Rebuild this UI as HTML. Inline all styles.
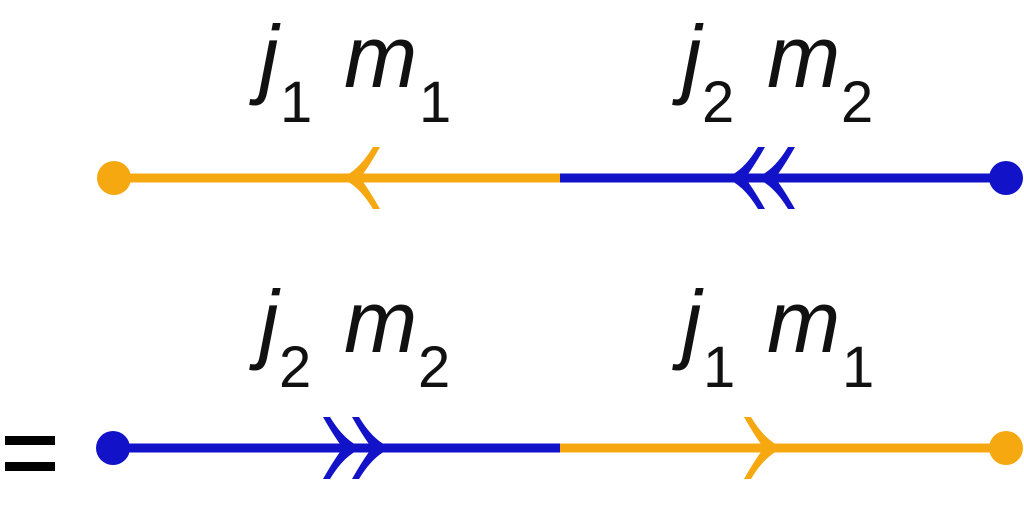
<!DOCTYPE html>
<html><head><style>
html,body{margin:0;padding:0;background:#fff;}
svg{display:block}
text{font-family:"Liberation Sans",sans-serif;}
</style></head><body>
<svg width="1024" height="512" viewBox="0 0 1024 512" xmlns="http://www.w3.org/2000/svg">
<defs>
<path id="ah" d="M0,0 Q18,-6 33,-31 L40,-31 Q28,-10 20,0 Q28,10 40,31 L33,31 Q18,6 0,0 Z"/>
</defs>
<!-- top -->
<line x1="114" y1="178" x2="560" y2="178" stroke="#F5A810" stroke-width="9"/>
<line x1="560" y1="178" x2="1006" y2="178" stroke="#1212C8" stroke-width="9"/>
<circle cx="114" cy="178" r="17" fill="#F5A810"/>
<circle cx="1006" cy="178" r="17" fill="#1212C8"/>
<use href="#ah" x="340" y="178" fill="#F5A810"/>
<use href="#ah" x="725" y="178" fill="#1212C8"/>
<use href="#ah" x="755" y="178" fill="#1212C8"/>
<!-- bottom -->
<line x1="113" y1="448" x2="560" y2="448" stroke="#1212C8" stroke-width="9"/>
<line x1="560" y1="448" x2="1006" y2="448" stroke="#F5A810" stroke-width="9"/>
<circle cx="113" cy="448" r="17" fill="#1212C8"/>
<circle cx="1006" cy="448" r="17" fill="#F5A810"/>
<use href="#ah" transform="translate(363,448) scale(-1,1)" fill="#1212C8"/>
<use href="#ah" transform="translate(392,448) scale(-1,1)" fill="#1212C8"/>
<use href="#ah" transform="translate(784,448) scale(-1,1)" fill="#F5A810"/>
<!-- equals -->
<rect x="5" y="436" width="50" height="9" fill="#000"/>
<rect x="5" y="462" width="50" height="9" fill="#000"/>
<!-- labels -->
<g fill="#111">
<g font-size="88" font-style="italic">
<text x="259" y="87">j</text><text x="344" y="87">m</text>
<text x="682" y="87">j</text><text x="767" y="87">m</text>
<text x="259" y="352">j</text><text x="344" y="352">m</text>
<text x="682" y="352">j</text><text x="767" y="352">m</text>
</g>
<g font-size="58">
<text x="280" y="122">1</text><text x="419" y="122">1</text>
<text x="702" y="122">2</text><text x="841" y="122">2</text>
<text x="279" y="387">2</text><text x="418" y="387">2</text>
<text x="703" y="387">1</text><text x="842" y="387">1</text>
</g>
</g>
</svg>
</body></html>
